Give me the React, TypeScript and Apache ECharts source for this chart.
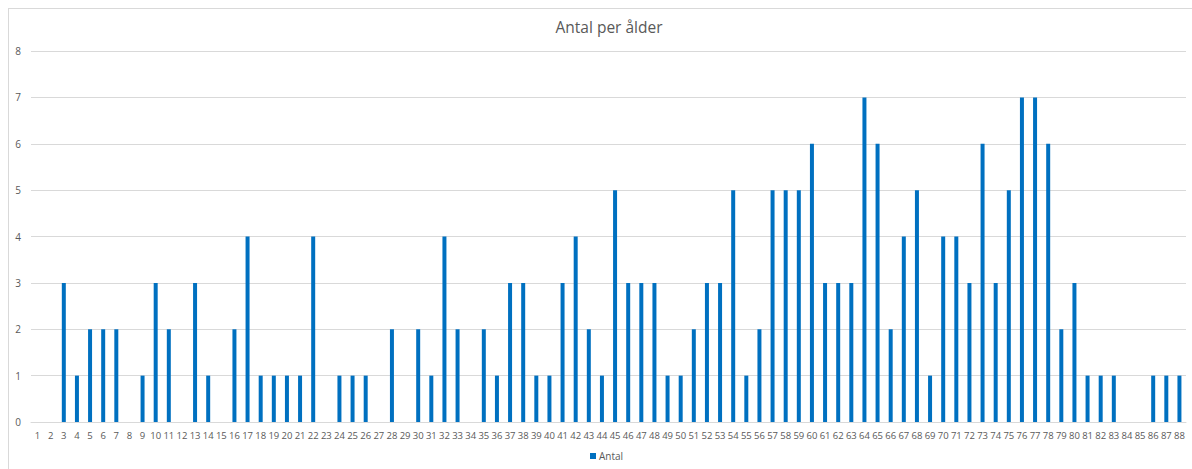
import React, { useEffect, useRef } from "react";
import * as echarts from "echarts";

const ages: string[] = Array.from({ length: 88 }, (_, i) => String(i + 1));
const antal: number[] = [
  0, 0, 3, 1, 2, 2, 2, 0, 1, 3,
  2, 0, 3, 1, 0, 2, 4, 1, 1, 1,
  1, 4, 0, 1, 1, 1, 0, 2, 0, 2,
  1, 4, 2, 0, 2, 1, 3, 3, 1, 1,
  3, 4, 2, 1, 5, 3, 3, 3, 1, 1,
  2, 3, 3, 5, 1, 2, 5, 5, 5, 6,
  3, 3, 3, 7, 6, 2, 4, 5, 1, 4,
  4, 3, 6, 3, 5, 7, 7, 6, 2, 3,
  1, 1, 1, 0, 0, 1, 1, 1,
];
const titleText = "Antal per ålder";
const seriesName = "Antal";

export default function App() {
  const ref = useRef<HTMLDivElement>(null);
  useEffect(() => {
    if (!ref.current) return;
    const chart = echarts.init(ref.current, undefined, { renderer: "svg" });
    chart.setOption({
      animation: false,
      textStyle: { fontFamily: "Open Sans" },
      title: {
        text: titleText,
        left: 604,
        textAlign: "center",
        top: 14,
        textStyle: { fontSize: 15.5, fontWeight: "normal", color: "#595959", fontFamily: "Open Sans" },
      },
      legend: {
        bottom: 3,
        left: 585,
        itemWidth: 6,
        itemHeight: 6,
        itemGap: 4,
        icon: "rect",
        textStyle: { fontSize: 10, color: "#595959", padding: [0, 0, 0, -2] },
        data: [seriesName],
      },
      grid: { left: 31, right: 6, top: 51, bottom: 47, containLabel: false },
      xAxis: {
        type: "category",
        data: ages,
        axisLine: { lineStyle: { color: "#d9d9d9" } },
        axisTick: { show: false },
        axisLabel: { interval: 0, fontSize: 9.5, color: "#595959", margin: 8 },
      },
      yAxis: {
        type: "value",
        min: 0,
        max: 8,
        interval: 1,
        axisLine: { show: false },
        axisTick: { show: false },
        splitLine: { lineStyle: { color: "#d9d9d9" } },
        axisLabel: { fontSize: 10, color: "#595959", margin: 10 },
      },
      series: [
        {
          name: seriesName,
          type: "bar",
          data: antal,
          barWidth: 4,
          itemStyle: { color: "#0070c0" },
        },
      ],
    });
    return () => chart.dispose();
  }, []);
  return (
    <div style={{ position: "fixed", left: 0, top: 0, width: 1192, height: 469, overflow: "hidden", background: "#fff" }}>
      <div
        style={{
          position: "absolute",
          left: 8,
          top: 8,
          width: 1300,
          height: 600,
          border: "1px solid #d9d9d9",
          boxSizing: "border-box",
        }}
      />
      <div ref={ref} style={{ position: "absolute", left: 0, top: 0, width: 1192, height: 469 }} />
    </div>
  );
}
